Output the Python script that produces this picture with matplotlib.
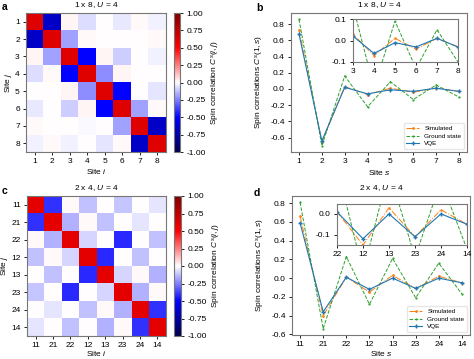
import matplotlib
matplotlib.use("Agg")
import matplotlib.pyplot as plt
import numpy as np

# ---- data ----
sites_1x8 = ["1", "2", "3", "4", "5", "6", "7", "8"]
sites_2x4 = ["11", "21", "22", "12", "13", "23", "24", "14"]

corr_1x8 = [
    [0.62, -0.65, 0.02, -0.07, 0.00, -0.04, 0.01, -0.03],
    [-0.65, 0.62, -0.18, 0.01, 0.00, 0.00, 0.00, 0.01],
    [0.02, -0.18, 0.62, -0.50, 0.02, -0.10, 0.00, -0.03],
    [-0.07, 0.01, -0.50, 0.62, -0.22, 0.02, 0.00, 0.00],
    [0.00, 0.00, 0.02, -0.22, 0.62, -0.50, 0.00, -0.05],
    [-0.04, 0.00, -0.10, 0.02, -0.50, 0.62, -0.18, 0.01],
    [0.01, 0.00, 0.00, -0.01, 0.00, -0.18, 0.62, -0.65],
    [-0.03, 0.01, -0.03, 0.00, -0.05, 0.01, -0.65, 0.62],
]
corr_2x4 = [
    [0.60, -0.40, 0.01, -0.12, 0.00, -0.11, 0.00, -0.05],
    [-0.40, 0.60, -0.15, 0.01, -0.12, 0.00, -0.05, 0.00],
    [0.01, -0.15, 0.60, -0.08, 0.00, -0.42, 0.00, -0.12],
    [-0.12, 0.01, -0.08, 0.60, -0.42, 0.00, -0.12, 0.00],
    [0.00, -0.12, 0.00, -0.42, 0.60, -0.08, 0.01, -0.15],
    [-0.11, 0.00, -0.42, 0.00, -0.08, 0.60, -0.15, 0.01],
    [0.00, -0.05, 0.00, -0.12, 0.01, -0.15, 0.60, -0.40],
    [-0.05, 0.00, -0.12, 0.00, -0.15, 0.01, -0.40, 0.60],
]

sim_1x8 = [0.73, -0.66, 0.03, -0.07, 0.01, -0.04, 0.01, -0.03]
gs_1x8 = [0.86, -0.70, 0.16, -0.22, 0.09, -0.13, 0.05, -0.10]
vqe_1x8 = [0.68, -0.64, 0.02, -0.06, -0.01, -0.03, 0.01, -0.03]

sim_2x4 = [0.66, -0.40, 0.01, -0.15, 0.03, -0.11, 0.02, -0.05]
gs_2x4 = [0.81, -0.54, 0.23, -0.28, 0.21, -0.21, 0.16, -0.17]
vqe_2x4 = [0.59, -0.36, 0.01, -0.12, 0.00, -0.11, 0.00, -0.05]

main_yticks = [-0.6, -0.4, -0.2, 0.0, 0.2, 0.4, 0.6, 0.8]

W, H = 474, 359
FS = 6.0
plt.rcParams["font.family"] = ["Liberation Sans", "DejaVu Sans"]
plt.rcParams["mathtext.fontset"] = "custom"
plt.rcParams["mathtext.it"] = "Liberation Sans:italic"
plt.rcParams["mathtext.rm"] = "Liberation Sans"
plt.rcParams["font.size"] = FS
plt.rcParams["axes.edgecolor"] = "#777777"
plt.rcParams["axes.linewidth"] = 0.8
plt.rcParams["xtick.major.size"] = 2
plt.rcParams["ytick.major.size"] = 2
plt.rcParams["xtick.major.width"] = 0.6
plt.rcParams["ytick.major.width"] = 0.6
plt.rcParams["xtick.major.pad"] = 2.5
plt.rcParams["ytick.major.pad"] = 2.5

fig = plt.figure(figsize=(W / 100, H / 100), dpi=100)


def box(x0, y0, x1, y1):
    return [x0 / W, 1 - y1 / H, (x1 - x0) / W, (y1 - y0) / H]


def fmt(ticks, nd):
    return [("%." + str(nd) + "f") % t if abs(t) > 1e-9 else "0." + "0" * nd for t in ticks]


def heatmap(rect, crect, data, labels, title, xpad=1):
    ax = fig.add_axes(box(*rect))
    im = ax.imshow(np.array(data), cmap="seismic", vmin=-1, vmax=1, aspect="auto")
    ax.set_xticks(range(len(labels)))
    ax.set_xticklabels(labels)
    ax.set_yticks(range(len(labels)))
    ax.set_yticklabels(labels)
    ax.set_xlabel("Site $i$", labelpad=xpad)
    ax.set_ylabel("Site $j$", labelpad=1)
    ax.set_title(title, fontsize=FS, pad=4)
    cax = fig.add_axes(box(*crect))
    ticks = np.arange(-1, 1.01, 0.25)
    cb = fig.colorbar(im, cax=cax, ticks=ticks)
    cb.ax.set_yticklabels(fmt(ticks, 2))
    cb.outline.set_edgecolor("#777777")
    cb.set_label("Spin correlation $C^s(i,j)$", labelpad=3)
    return ax


def lines(ax, labels, sim, gs, vqe, ms=2):
    x = np.arange(len(labels))
    ax.plot(x, sim, color="tab:orange", ls="-.", lw=0.7, marker=".", ms=ms, label="Simulated")
    ax.plot(x, gs, color="tab:green", ls="--", lw=0.7, marker=".", ms=ms - 0.8, label="Ground state")
    ax.plot(x, vqe, color="tab:blue", ls="-", lw=0.8, marker="+", ms=ms + 1, label="VQE")
    ax.set_xticks(x)
    ax.set_xticklabels(labels)


def corr_plot(rect, irect, labels, sim, gs, vqe, title, iylim, iyticks, xpad=2):
    ax = fig.add_axes(box(*rect))
    lines(ax, labels, sim, gs, vqe)
    ax.set_yticks(main_yticks)
    ax.set_yticklabels(fmt(main_yticks, 1))
    ax.set_xlabel("Site $s$", labelpad=xpad)
    ax.set_ylabel("Spin correlations $C^s(1, s)$", labelpad=3)
    ax.set_title(title, fontsize=FS, pad=4)
    ax.legend(loc="lower right", fontsize=4.6, frameon=True, edgecolor="#e0e0e0",
              handlelength=2, borderpad=0.4, labelspacing=0.3)
    ins = fig.add_axes(box(*irect))
    lines(ins, labels, sim, gs, vqe, ms=1.6)
    ins.set_xlim(2, 7)
    ins.set_ylim(*iylim)
    ins.set_yticks(iyticks)
    ins.set_yticklabels(fmt(iyticks, 1))
    return ax


heatmap((26, 13, 166, 152), (174, 13, 180, 152), corr_1x8, sites_1x8, "1 x 8, $U$ = 4")
corr_plot((291, 13, 467, 152), (353, 19, 458, 62), sites_1x8, sim_1x8, gs_1x8, vqe_1x8,
          "1 x 8, $U$ = 4", (-0.1, 0.1), [-0.1, 0.0, 0.1])
heatmap((27, 196, 166, 336), (174, 196, 181, 336), corr_2x4, sites_2x4, "2 x 4, $U$ = 4", xpad=0)
corr_plot((292, 196, 470, 335), (337, 204, 467, 245), sites_2x4, sim_2x4, gs_2x4, vqe_2x4,
          "2 x 4, $U$ = 4", (-0.15, 0.048), [-0.1, 0.0], xpad=0.5)

for lab, px, py in [("a", 2, 2), ("b", 256, 3), ("c", 2, 186), ("d", 254, 188)]:
    fig.text(px / W, 1 - py / H, lab, fontsize=7.5, fontweight="bold", va="top", ha="left")

fig.savefig("out.png", dpi=100)
